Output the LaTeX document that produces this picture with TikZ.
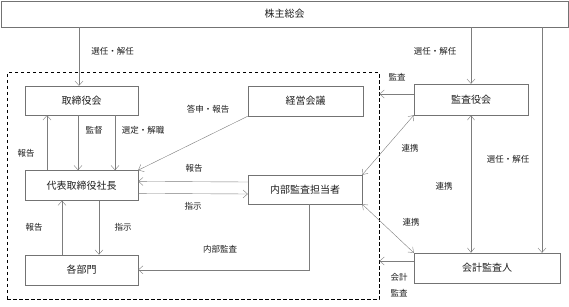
\documentclass[tikz,border=0pt]{standalone}
\usepackage{fontspec}
\newfontfamily\jpfont{Noto Sans CJK JP}
\usepackage{xcolor}
\usepackage{tikz}
\usetikzlibrary{positioning,arrows.meta,calc}
\definecolor{linegray}{RGB}{125,125,125}
\definecolor{boxgray}{RGB}{115,115,115}
\definecolor{txtgray}{RGB}{30,30,30}
\tikzset{
  box/.style   = {draw=boxgray, align=center, text=txtgray, font=\jpfont\fontsize{10}{12}\selectfont, inner sep=0pt, minimum width=113pt, minimum height=30pt},
  lbl/.style   = {align=center, text=txtgray, font=\jpfont\fontsize{8.5}{16}\selectfont, inner sep=1pt},
  frame/.style = {draw=black, line width=0.9pt, dash pattern=on 3.5pt off 2.5pt, inner sep=0pt},
  flow/.style  = {-{Straight Barb[length=4.5pt,width=8pt]}, draw=linegray},
  twoway/.style = {{Straight Barb[length=4.5pt,width=7pt]}-{Straight Barb[length=4.5pt,width=7pt]}, draw=linegray},
}

\begin{document}
\begin{tikzpicture}[x=1pt, y=1pt]
  \useasboundingbox (0,0) rectangle (569,306);
  % shareholders and company frame
  \node[box, minimum width=567pt, minimum height=26pt] (soukai) at (284.5,292) {株主総会};
  \node[frame, minimum width=372pt, minimum height=227pt] (kaisha) at (193,119.7) {};
  % left column
  \node[box, minimum height=29pt] (torishimari) at (81.5,205.5) {取締役会};
  \node[box, below=55pt of torishimari] (shachou) {代表取締役社長};
  \node[box, below=54pt of shachou] (bumon) {各部門};
  % middle column
  \node[box, minimum width=115pt] (keiei) at (305.5,205) {経営会議};
  \node[box, minimum width=114pt, minimum height=29pt] (naibu) at (305,116.5) {内部監査担当者};
  % right column
  \node[box, minimum width=114pt, minimum height=31pt] (kansayaku) at (471,206.5) {監査役会};
  \node[box, minimum width=146pt] (kaikei) at (487,38) {会計監査人};

  % appointment
  \draw[flow] ([xshift=-2.5pt]torishimari.north |- soukai.south) -- ([xshift=-2.5pt]torishimari.north);
  \draw[flow] (kansayaku.north |- soukai.south) -- (kansayaku.north);
  \draw[flow] ([xshift=55pt]kaikei.north |- soukai.south) -- ([xshift=55pt]kaikei.north);
  \node[lbl] (l1) at (112.5,255) {選任・解任};
  \node[lbl] (l2) at (435,255) {選任・解任};

  % board and president
  \draw[flow] ([xshift=-34.5pt]shachou.north) -- ([xshift=-34.5pt]torishimari.south);
  \draw[flow] ([xshift=-3.5pt]torishimari.south) -- ([xshift=-3.5pt]shachou.north);
  \draw[flow] ([xshift=33.5pt]torishimari.south) -- ([xshift=33.5pt]shachou.north);
  \node[lbl] (l3) at (26,153) {報告};
  \node[lbl] (l4) at (94,176) {監督};
  \node[lbl] (l5) at (143,176) {選定・解職};
  \draw[flow] (keiei.south west) -- (shachou.north east);
  \node[lbl] (l6) at (208,197) {答申・報告};

  % president and internal audit
  \draw[flow] ([yshift=7.5pt]naibu.west) -- ([yshift=4pt]shachou.east);
  \draw[flow] ([yshift=-8pt]shachou.east) -- ([yshift=-4.5pt]naibu.west);
  \node[lbl] (l7) at (194,138) {報告};
  \node[lbl] (l8) at (193,100) {指示};

  % president and departments
  \draw[flow] ([xshift=17.5pt]shachou.south) -- ([xshift=17.5pt]bumon.north);
  \draw[flow] ([xshift=-19.5pt]bumon.north) -- ([xshift=-19.5pt]shachou.south);
  \node[lbl] (l9) at (34,79) {報告};
  \node[lbl] (l10) at (123,79) {指示};
  \draw[flow] ([xshift=4pt]naibu.south) |- (bumon.east);
  \node[lbl] (l11) at (220,57) {内部監査};

  % auditors
  \draw[flow] ([yshift=5.5pt]kansayaku.west) -- ([yshift=5.5pt]kaisha.east |- kansayaku.west);
  \node[lbl] (l12) at (397,229) {監査};
  \draw[twoway] (kansayaku.south west) -- (naibu.north east);
  \node[lbl] (l13) at (410,158) {連携};
  \draw[twoway] (kansayaku.south) -- (kansayaku.south |- kaikei.north);
  \node[lbl] (l14) at (444,120) {連携};
  \node[lbl] (l15) at (508,147) {選任・解任};
  \draw[twoway] (naibu.south east) -- (kaikei.north west);
  \node[lbl] (l16) at (411,84) {連携};
  \draw[flow] ([yshift=7pt]kaikei.west) -- ([yshift=7pt]kaisha.east |- kaikei.west);
  \node[lbl] (l17) at (399,21) {会計\\監査};
\end{tikzpicture}
\end{document}
